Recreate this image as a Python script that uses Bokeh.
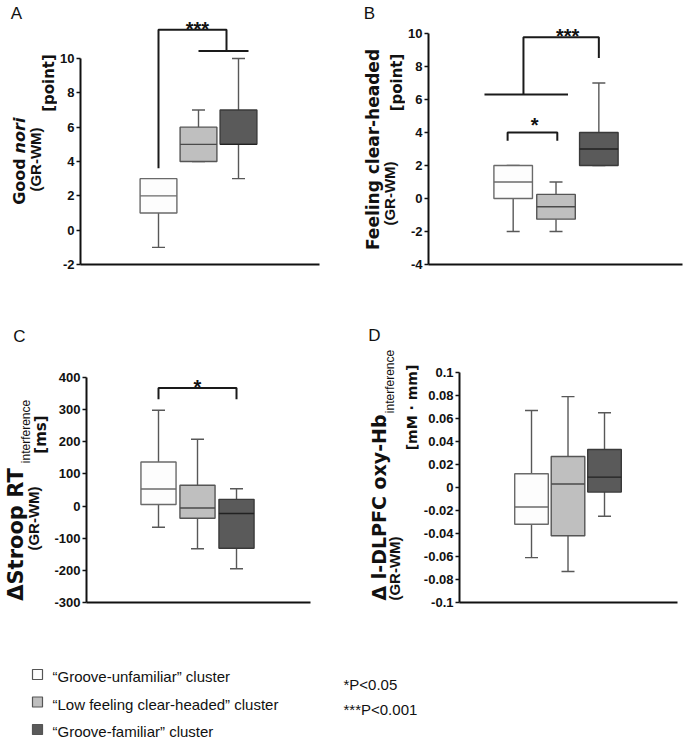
import math
from bokeh.plotting import figure
from bokeh.models import Range1d, FixedTicker, ColumnDataSource
from bokeh.layouts import column, row
from bokeh.embed import file_html
from bokeh.resources import INLINE
from bokeh.core.properties import value

# ---------------- data ----------------
clusters = ["\u201cGroove-unfamiliar\u201d cluster",
            "\u201cLow feeling clear-headed\u201d cluster",
            "\u201cGroove-familiar\u201d cluster"]
cluster_x = [1, 2, 3]
box_fill = ["#fdfdfd", "#bfbfbf", "#5a5a5a"]
box_line = ["#6a6a6a", "#555555", "#3a3a3a"]
median_color = ["#6a6a6a", "#4a4a4a", "#222222"]
whisker_color = "#585858"

# A: Good nori
a_lower = [-1, 4, 3]
a_q1 = [1, 4, 5]
a_median = [2, 5, 5]
a_q3 = [3, 6, 7]
a_upper = [3, 7, 10]
a_ticks = [-2, 0, 2, 4, 6, 8, 10]
a_tick_labels = ["-2", "0", "2", "4", "6", "8", "10"]
a_sig_xs = [[1, 1, 2.7, 2.7], [2.0, 3.25]]
a_sig_ys = [[3.6, 11.67, 11.67, 10.43], [10.43, 10.43]]
a_star_x = [1.97]
a_star_y = [11.71]
a_star_text = ["***"]

# B: Feeling clear-headed
b_lower = [-2, -2, 2]
b_q1 = [0, -1.25, 2]
b_median = [1, -0.5, 3]
b_q3 = [2, 0.25, 4]
b_upper = [2, 1, 7]
b_ticks = [-4, -2, 0, 2, 4, 6, 8, 10]
b_tick_labels = ["-4", "-2", "0", "2", "4", "6", "8", "10"]
b_sig_xs = [[0.87, 0.87, 2.03, 2.03], [0.33, 2.28], [1.24, 1.24, 3.0, 3.0]]
b_sig_ys = [[3.5, 4.0, 4.0, 3.5], [6.3, 6.3], [6.3, 9.78, 9.78, 8.52]]
b_star_x = [1.5, 2.27]
b_star_y = [4.45, 9.87]
b_star_text = ["*", "***"]

# C: Stroop RT interference
c_lower = [-66, -133, -195]
c_q1 = [5, -38, -131]
c_median = [53, -6, -23]
c_q3 = [137, 65, 21]
c_upper = [298, 208, 54]
c_ticks = [-300, -200, -100, 0, 100, 200, 300, 400]
c_tick_labels = ["-300", "-200", "-100", "0", "100", "200", "300", "400"]
c_sig_xs = [[1, 1, 3, 3]]
c_sig_ys = [[332, 367, 367, 332]]
c_star_x = [2.0]
c_star_y = [372]
c_star_text = ["*"]

# D: l-DLPFC oxy-Hb interference
d_lower = [-0.061, -0.073, -0.025]
d_q1 = [-0.032, -0.042, -0.004]
d_median = [-0.017, 0.003, 0.009]
d_q3 = [0.012, 0.027, 0.033]
d_upper = [0.067, 0.079, 0.065]
d_ticks = [-0.1, -0.08, -0.06, -0.04, -0.02, 0, 0.02, 0.04, 0.06, 0.08, 0.1]
d_tick_labels = ["-0.1", "-0.08", "-0.06", "-0.04", "-0.02", "0",
                 "0.02", "0.04", "0.06", "0.08", "0.1"]

p_value_notes = ["*P<0.05", "***P<0.001"]

# ---------------- helpers ----------------
LAB = "DejaVu Sans"
TICK = "Liberation Sans"
INK = "#111111"
R = math.pi / 2


def blank_fig(ox, oy, w, h, bt=0, bb=0):
    """A plain figure whose data coordinates are page pixels (y downward).
    bt/bb: top/bottom borders, equal to those of the neighbouring panels so
    that row frame alignment changes nothing."""
    p = figure(width=w, height=h, x_range=Range1d(ox, ox + w),
               y_range=Range1d(oy + h - bb, oy + bt),
               output_backend="svg", toolbar_location=None, tools="",
               x_axis_location=None, y_axis_location=None,
               min_border_left=0, min_border_right=0,
               min_border_top=bt, min_border_bottom=bb)
    p.outline_line_color = None
    p.xgrid.visible = False
    p.ygrid.visible = False
    return p


def put(p, x, y, text, size, font=LAB, style="bold", angle=0.0, align="center"):
    p.text(x=[x], y=[y], text=[text], angle=angle, text_font=value(font),
           text_font_size=f"{size}px", text_font_style=style, text_align=align,
           text_baseline="middle", text_color=INK)


def panel_fig(w, h, ox, oy, fl, fr, ft, fb, xr, yr):
    p = figure(width=w, height=h, x_range=Range1d(*xr), y_range=Range1d(*yr),
               output_backend="svg", toolbar_location=None, tools="",
               min_border_left=fl - ox, min_border_right=ox + w - fr,
               min_border_top=ft - oy, min_border_bottom=oy + h - fb)
    p.outline_line_color = None
    p.xgrid.visible = False
    p.ygrid.visible = False
    return p


def style_axes(p, ticks, labels, bounds):
    ya = p.yaxis[0]
    ya.ticker = FixedTicker(ticks=ticks)
    ya.major_label_overrides = dict(zip(ticks, labels))
    ya.bounds = bounds
    ya.axis_line_width = 2
    ya.axis_line_color = INK
    ya.major_tick_line_width = 1.5
    ya.major_tick_line_color = INK
    ya.major_tick_out = 4
    ya.major_tick_in = 0
    ya.minor_tick_line_color = None
    ya.major_label_text_font = TICK
    ya.major_label_text_font_size = "13px"
    ya.major_label_text_font_style = "bold"
    ya.major_label_text_color = INK
    ya.major_label_standoff = 2
    xa = p.xaxis[0]
    xa.ticker = FixedTicker(ticks=[])
    xa.axis_line_width = 2
    xa.axis_line_color = INK
    xa.major_tick_line_color = None
    xa.minor_tick_line_color = None
    xa.major_tick_out = 0
    xa.major_tick_in = 0
    xa.minor_tick_out = 0
    xa.major_label_standoff = 0
    xa.axis_label_standoff = 0
    xa.major_label_text_font_size = "0px"


def draw_boxes(p, lower, q1, med, q3, upper, width):
    src = ColumnDataSource(dict(
        x=cluster_x, lower=lower, q1=q1, med=med, q3=q3, upper=upper,
        fill=box_fill, line=box_line, mcol=median_color,
        x0=[x - width / 2 for x in cluster_x],
        x1=[x + width / 2 for x in cluster_x]))
    p.segment(x0="x", y0="q3", x1="x", y1="upper", source=src,
              line_color=whisker_color, line_width=1.4)
    p.segment(x0="x", y0="lower", x1="x", y1="q1", source=src,
              line_color=whisker_color, line_width=1.4)
    p.scatter(x="x", y="upper", marker="dash", size=13, source=src,
              line_color=whisker_color, line_width=1.4)
    p.scatter(x="x", y="lower", marker="dash", size=13, source=src,
              line_color=whisker_color, line_width=1.4)
    p.vbar(x="x", width=width, bottom="q1", top="q3", source=src,
           fill_color="fill", line_color="line", line_width=1.4)
    p.segment(x0="x0", y0="med", x1="x1", y1="med", source=src,
              line_color="mcol", line_width=1.4)


def draw_sig(p, xs, ys, sx, sy, st):
    p.multi_line(xs=xs, ys=ys, line_color="#1a1a1a", line_width=2)
    p.text(x=sx, y=sy, text=st, text_align="center", text_baseline="middle",
           text_font=value(TICK), text_font_style="bold",
           text_font_size="20px", text_color=INK)


# Row 1: page y 0..298, every frame spans page y 0..264
# Row 2: page y 298..634, every frame spans page y 326..602

# ---------------- panel A ----------------
LA = blank_fig(0, 0, 57, 298, 0, 34)
put(LA, 16, 13, "A", 17, font=TICK, style="normal")
put(LA, 18.5, 181, "Good", 16, angle=R)
put(LA, 18.5, 135, "nori", 16, style="bold italic", angle=R)
put(LA, 35, 159, "(GR-WM)", 15, font=TICK, angle=R)
put(LA, 48, 82.5, "[point]", 15, angle=R)

pA = panel_fig(276, 298, 57, 0, 80, 319, 0, 264, (-0.95, 5.025), (-2, 13.379))
style_axes(pA, a_ticks, a_tick_labels, (-2, 10))
draw_boxes(pA, a_lower, a_q1, a_median, a_q3, a_upper, 0.92)
draw_sig(pA, a_sig_xs, a_sig_ys, a_star_x, a_star_y, a_star_text)

# ---------------- panel B ----------------
LB = blank_fig(333, 0, 72, 298, 0, 34)
put(LB, 369, 13, "B", 17, font=TICK, style="normal")
put(LB, 372, 149, "Feeling clear-headed", 17, angle=R)
put(LB, 389, 193, "(GR-WM)", 15, font=TICK, angle=R)
put(LB, 396, 82, "[point]", 15, angle=R)

pB = panel_fig(280, 298, 405, 0, 427, 682, 0, 264, (-0.977, 4.953), (-4, 12.0))
style_axes(pB, b_ticks, b_tick_labels, (-4, 10))
draw_boxes(pB, b_lower, b_q1, b_median, b_q3, b_upper, 0.9)
draw_sig(pB, b_sig_xs, b_sig_ys, b_star_x, b_star_y, b_star_text)

# ---------------- panel C ----------------
LC = blank_fig(0, 298, 50, 336, 28, 32)
put(LC, 19, 336, "C", 17, font=TICK, style="normal")
put(LC, 15, 534, "\u0394Stroop RT", 21, angle=R)
put(LC, 25, 431, "interference", 12, font=TICK, style="normal", angle=R)
put(LC, 33, 518, "(GR-WM)", 15, font=TICK, angle=R)
put(LC, 40, 434, "[ms]", 15, angle=R)

pC = panel_fig(283, 336, 50, 298, 86, 310, 326, 602, (-0.846, 4.897), (-300, 558.7))
style_axes(pC, c_ticks, c_tick_labels, (-300, 400))
draw_boxes(pC, c_lower, c_q1, c_median, c_q3, c_upper, 0.9)
draw_sig(pC, c_sig_xs, c_sig_ys, c_star_x, c_star_y, c_star_text)

# ---------------- panel D ----------------
LD = blank_fig(333, 298, 87, 336, 28, 32)
put(LD, 374, 335, "D", 17, font=TICK, style="normal")
put(LD, 378, 507, "\u0394 l-DLPFC oxy-Hb", 19, angle=R)
put(LD, 389, 381, "interference", 12, font=TICK, style="normal", angle=R)
put(LD, 394, 568, "(GR-WM)", 15, font=TICK, angle=R)
put(LD, 411, 407, "[mM \u00b7 mm]", 14, angle=R)

pD = panel_fig(265, 336, 420, 298, 456, 677, 326, 602, (-0.973, 5.0), (-0.1, 0.14))
style_axes(pD, d_ticks, d_tick_labels, (-0.1, 0.1))
draw_boxes(pD, d_lower, d_q1, d_median, d_q3, d_upper, 0.92)

# ---------------- legend ----------------
pL = blank_fig(0, 634, 685, 108)
row_gap = 27.5
sq_y = [674 + row_gap * i for i in range(len(clusters))]
tx_y = [676 + row_gap * i for i in range(len(clusters))]
pL.scatter(x=[37] * len(clusters), y=sq_y, marker="square", size=10,
           fill_color=box_fill, line_color="#555555", line_width=1.2)
pL.text(x=[52] * len(clusters), y=tx_y, text=clusters, text_align="left",
        text_baseline="middle", text_font=value(TICK), text_font_size="15px",
        text_color=INK)
pL.text(x=[343] * len(p_value_notes), y=[684, 709], text=p_value_notes, text_align="left",
        text_baseline="middle", text_font=value(TICK), text_font_size="15px",
        text_color=INK)

layout = column(row(LA, pA, LB, pB), row(LC, pC, LD, pD), pL)
open("out.html", "w").write(file_html(layout, INLINE))
